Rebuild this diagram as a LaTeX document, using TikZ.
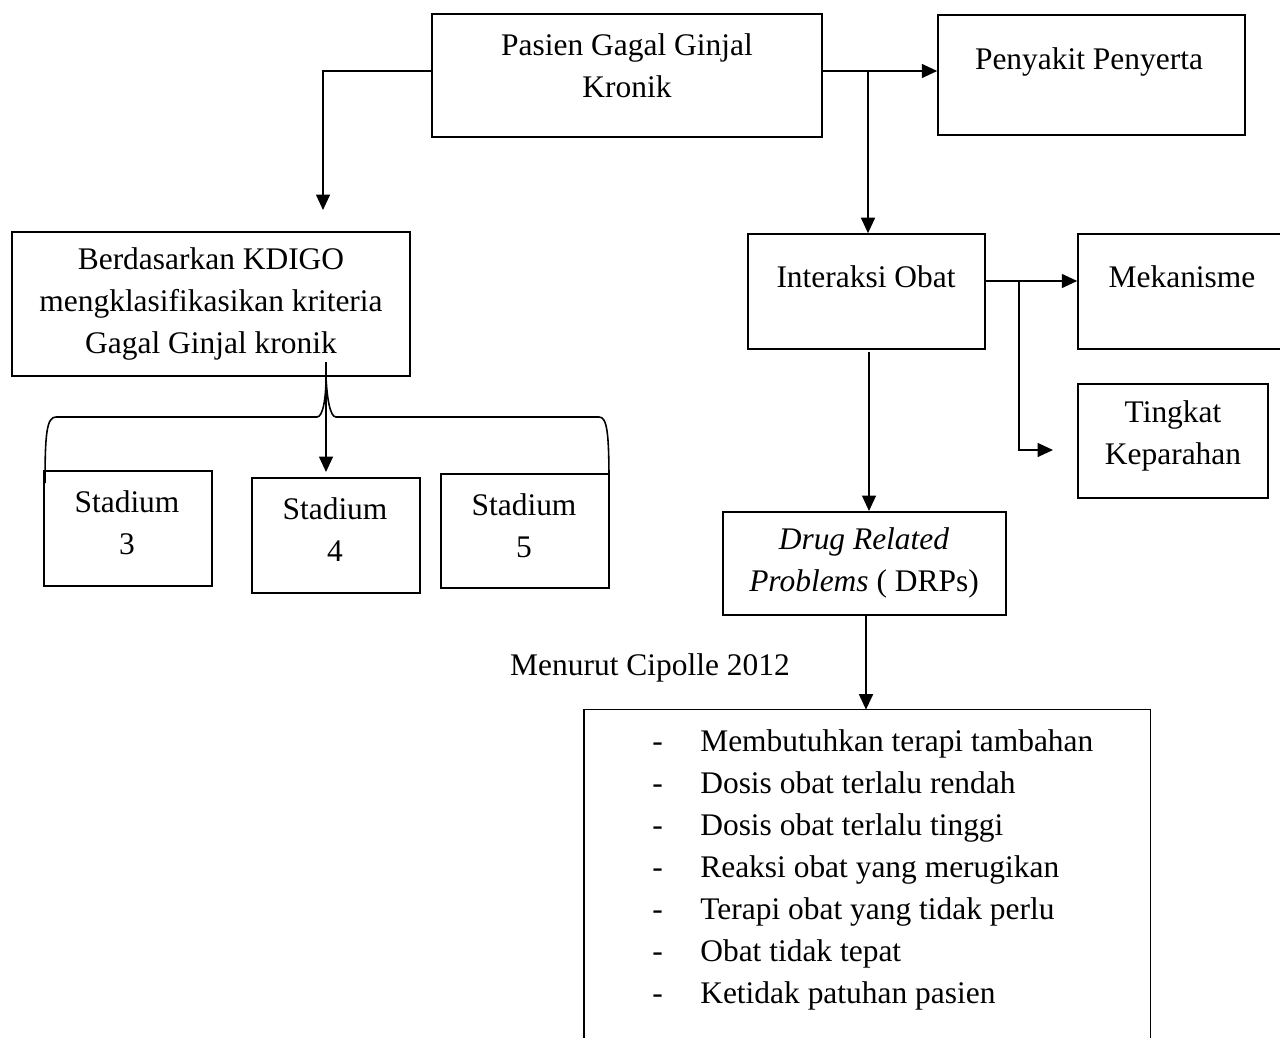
\documentclass[tikz,border=0pt]{standalone}
\usepackage{fontspec}
\setmainfont{Liberation Serif}
\usetikzlibrary{arrows.meta}
\begin{document}
\begin{tikzpicture}[x=0.02cm,y=-0.02cm,
  every node/.style={font=\fontsize{17.9}{23.9}\selectfont},
  box/.style={draw,line width=0.9pt,rectangle,inner sep=0pt},
  txt/.style={inner sep=0pt,align=center},
  conn/.style={line width=0.9pt},
  arr/.style={line width=0.9pt,-{Triangle[length=0.31cm,width=0.28cm]}}]
\path[use as bounding box] (0,0) rectangle (1280,1037);
\clip (0,0) rectangle (1280,1037);
% boxes
\node[box,minimum width=7.8cm,minimum height=2.46cm] (pasien) at (627,75.5) {};
\node[box,minimum width=6.14cm,minimum height=2.4cm] (peny) at (1091.5,75) {};
\node[box,minimum width=7.96cm,minimum height=2.88cm] (kd) at (211,304) {};
\node[box,minimum width=3.36cm,minimum height=2.3cm] (s3) at (128,528.5) {};
\node[box,minimum width=3.36cm,minimum height=2.3cm] (s4) at (336,535.5) {};
\node[box,minimum width=3.36cm,minimum height=2.28cm] (s5) at (525,531) {};
\node[box,minimum width=4.74cm,minimum height=2.3cm] (inter) at (866.5,291.5) {};
\node[box,minimum width=4.24cm,minimum height=2.3cm] (mek) at (1184,291.5) {};
\node[box,minimum width=3.8cm,minimum height=2.28cm] (ting) at (1173,441) {};
\node[box,minimum width=5.66cm,minimum height=2.06cm] (drp) at (864.5,563.5) {};
\node[inner sep=0pt,minimum width=11.32cm,minimum height=7cm] (list) at (867,885) {};
\draw[line width=0.9pt] (list.south west) -- (list.north west) -- (list.north east) -- (list.south east);
% texts
\node[txt] (pasienT) at (627,66) {Pasien Gagal Ginjal\\Kronik};
\node[txt] (penyT) at (1089,62) {Penyakit Penyerta};
\node[txt] (kdT) at (211,304) {Berdasarkan KDIGO\\mengklasifikasikan kriteria\\Gagal Ginjal kronik};
\node[txt] (s3T) at (127,523) {Stadium\\3};
\node[txt] (s4T) at (335,530) {Stadium\\4};
\node[txt] (s5T) at (524,526) {Stadium\\5};
\node[txt] (interT) at (866,277) {Interaksi Obat};
\node[txt] (mekT) at (1182,277) {Mekanisme};
\node[txt] (tingT) at (1173,436) {Tingkat\\Keparahan};
\node[txt] (drpT) at (864,563) {\textit{Drug Related}\\\textit{Problems} ( DRPs)};
\node[txt] (cip) at (650,668) {Menurut Cipolle 2012};
\node[inner sep=0pt,anchor=north west] (items) at (652,722) {%
\begin{tabular}{@{}p{0.96cm}@{}l@{}}
- & Membutuhkan terapi tambahan\\
- & Dosis obat terlalu rendah\\
- & Dosis obat terlalu tinggi\\
- & Reaksi obat yang merugikan\\
- & Terapi obat yang tidak perlu\\
- & Obat tidak tepat\\
- & Ketidak patuhan pasien
\end{tabular}};
% helper coordinates
\coordinate (yA) at (0,71);
\coordinate (kdTip) at (323,210);
\coordinate (jA) at (868,71);
\coordinate (yB) at (0,281);
\coordinate (jB) at (1019,281);
\coordinate (tingTip) at (1053,450);
\coordinate (iA) at (869,352);
\coordinate (iB) at (869,511);
\coordinate (dA) at (866,615);
\coordinate (stA) at (326,362);
\coordinate (stTip) at (326,472);
% connectors
\draw[arr] (pasien.east |- yA) -- (peny.west |- yA);
\draw[arr] (pasien.west |- yA) -| (kdTip);
\draw[arr] (jA) -- (jA |- inter.north);
\draw[arr] (inter.east |- yB) -- (mek.west |- yB);
\draw[arr] (jB) |- (tingTip);
\draw[arr] (iA) -- (iB);
\draw[arr] (dA) -- (dA |- list.north);
\draw[arr] (stA) -- (stTip);
% brace
\draw[conn] (45,483) .. controls (45,432) and (47,417) .. (56,417) -- (317,417)
  .. controls (323,417) and (326,398) .. (326,377)
  .. controls (327,398) and (330,417) .. (336,417) -- (599,417)
  .. controls (607,417) and (609,432) .. (609,483);
\end{tikzpicture}
\end{document}
